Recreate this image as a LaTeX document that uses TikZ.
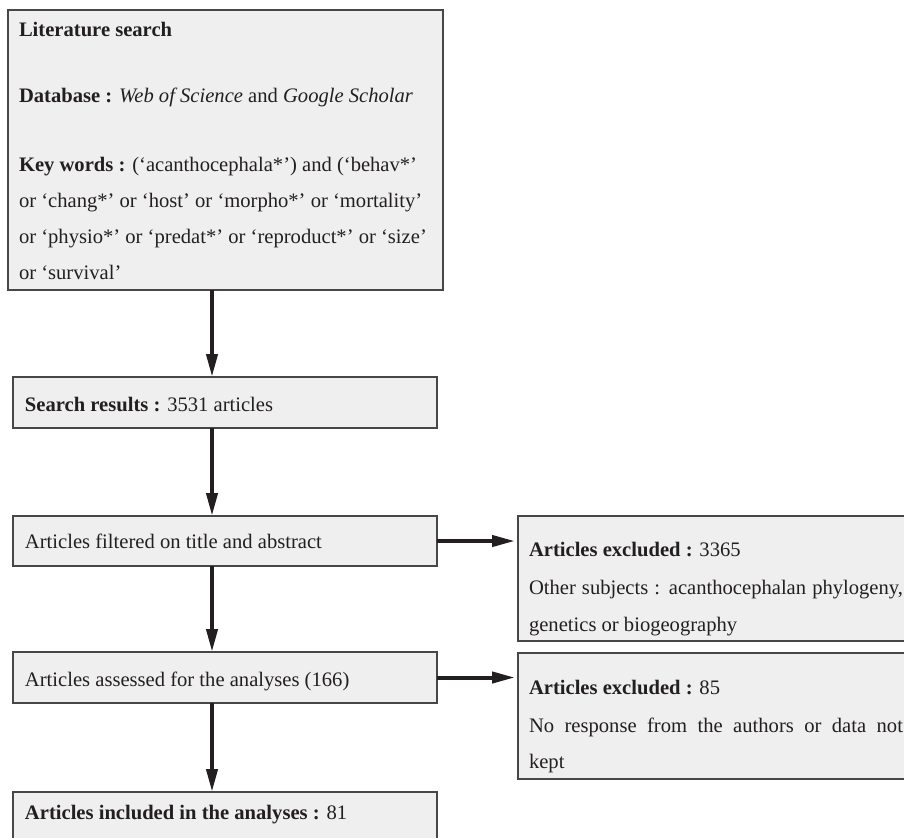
\documentclass[tikz,border=0pt]{standalone}
\usepackage{fontspec}
\setmainfont{Liberation Serif}
\usetikzlibrary{arrows.meta}
\definecolor{boxfill}{HTML}{EFEFEF}
\definecolor{boxline}{HTML}{474747}
\definecolor{ink}{HTML}{231F20}
\tikzset{
  box/.style={rectangle, draw=boxline, line width=1pt, fill=boxfill, inner sep=0pt, outer sep=0pt},
  txt/.style={anchor=base west, inner sep=0pt, outer sep=0pt, text=ink},
  arr/.style={draw=ink, line width=2pt, -{Triangle[length=11.5pt,width=5.5pt]}}
}
\begin{document}
\begin{tikzpicture}[x=0.5pt, y=-0.5pt, font=\fontsize{10.3pt}{18pt}\selectfont]
\clip (0,0) rectangle (904,837);
\fill[white] (0,0) rectangle (904,837);
% boxes
\node[box, minimum width=217.5pt, minimum height=140pt] (b1) at (225.5,150) {};
\node[box, minimum width=212pt, minimum height=25.5pt] (b2) at (225,402.5) {};
\node[box, minimum width=212pt, minimum height=25pt] (b3) at (225,541) {};
\node[box, minimum width=212pt, minimum height=25.5pt] (b4) at (225,677.5) {};
\node[box, minimum width=212pt, minimum height=40pt] (b5) at (225,832) {};
\node[box, minimum width=210pt, minimum height=62.5pt] (r1) at (728,578.5) {};
\node[box, minimum width=210pt, minimum height=63pt] (r2) at (728,716) {};
% texts
\node[txt] (t1a) at (19,36) {\textbf{Literature search}};
\node[txt] (t1b) at (19,102) {\textbf{Database :} \textit{Web of Science} and \textit{Google Scholar}};
\node[txt] (t1c) at (19,171) {\textbf{Key words :} (`acanthocephala*') and (`behav*'};
\node[txt] (t1d) at (19,207) {or `chang*' or `host' or `morpho*' or `mortality'};
\node[txt] (t1e) at (19,243) {or `physio*' or `predat*' or `reproduct*' or `size'};
\node[txt] (t1f) at (19,279) {or `survival'};
\node[txt] (t2) at (25,411) {\textbf{Search results :} 3531 articles};
\node[txt] (t3) at (25,548) {Articles filtered on title and abstract};
\node[txt] (t4) at (25,686) {Articles assessed for the analyses (166)};
\node[txt] (t5) at (25,819) {\textbf{Articles included in the analyses :} 81};
\node[txt] (r1a) at (529,556) {\textbf{Articles excluded :} 3365};
\node[txt] (r1b) at (529,594) {\makebox[187pt][s]{Other subjects : acanthocephalan phylogeny,}};
\node[txt] (r1c) at (529,631) {genetics or biogeography};
\node[txt] (r2a) at (529,694) {\textbf{Articles excluded :} 85};
\node[txt] (r2b) at (529,732) {\makebox[187pt][s]{No response from the authors or data not}};
\node[txt] (r2c) at (529,768) {kept};
% connectors
\coordinate (ax) at (212,0);
\draw[arr] (b1.south -| ax) -- (b2.north -| ax);
\draw[arr] (b2.south -| ax) -- (b3.north -| ax);
\draw[arr] (b3.south -| ax) -- (b4.north -| ax);
\draw[arr] (b4.south -| ax) -- (b5.north -| ax);
\draw[arr, shorten >=1.5pt] (b3.east) -- (b3.east -| r1.west);
\draw[arr, shorten >=1.5pt] (b4.east) -- (b4.east -| r2.west);
\end{tikzpicture}
\end{document}
